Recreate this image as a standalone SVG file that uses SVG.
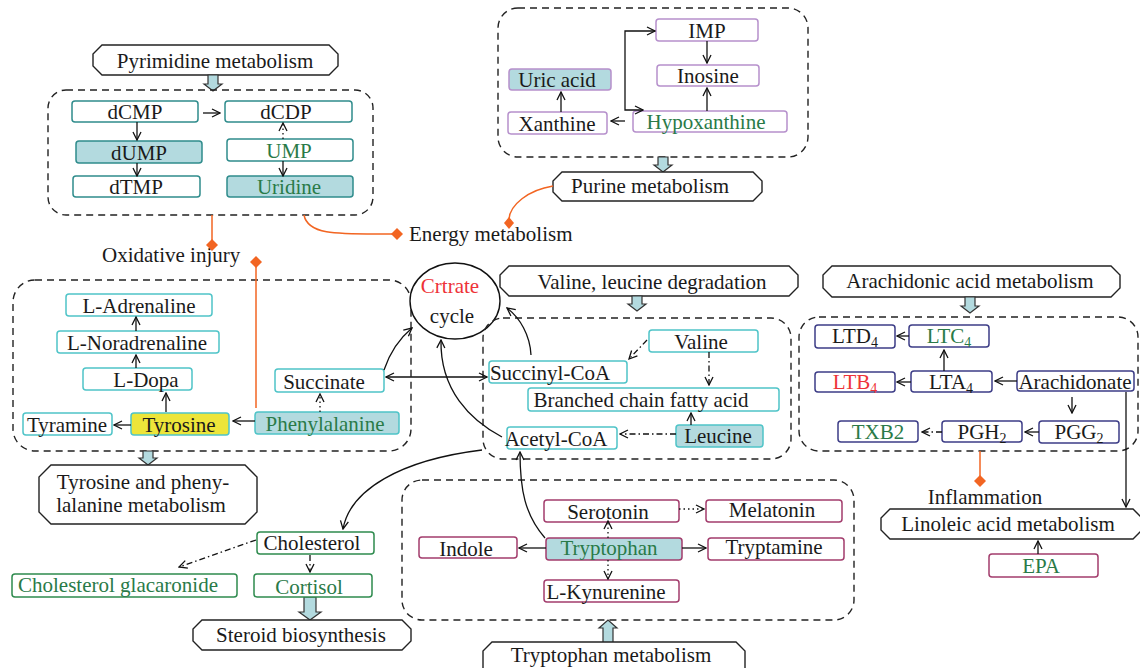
<svg xmlns="http://www.w3.org/2000/svg" width="1140" height="668" viewBox="0 0 1140 668">
<defs>
<style>
.t{font-family:"Liberation Serif","DejaVu Serif",serif;font-size:21px;fill:#1a1a1a;text-anchor:middle}
.ts{text-anchor:start}
.g{fill:#2a7a48}
.r{fill:#ee3338}
.s{font-size:14px}
rect.b{fill:#fff;stroke-width:1.5}
.f{fill:#b3dadf !important}
.y{fill:#ede53a !important}
.cp{stroke:#2f8c8c}
.cu{stroke:#b690cc}
.cc{stroke:#4fc4c8}
.ca{stroke:#3c3c86}
.ct{stroke:#a23c6c}
.ch{stroke:#2e8b4e}
.dash{fill:none;stroke:#222;stroke-width:1.4;stroke-dasharray:7 5}
.oct{fill:#fff;stroke:#222;stroke-width:1.4}
.blk{fill:#b3dadf;stroke:#333;stroke-width:1.2}
.c{fill:none;stroke:#111;stroke-width:1.3}
.dot{stroke-dasharray:1.5 3}
.dd{stroke-dasharray:6 3 1.5 3}
.o{fill:none;stroke:#f26522;stroke-width:1.5}
.od{fill:#f26522}
</style>
<marker id="a" viewBox="0 0 10 10" refX="9" refY="5" markerWidth="10" markerHeight="10" markerUnits="userSpaceOnUse" orient="auto-start-reverse">
<path d="M1,1 L9,5 L1,9" fill="none" stroke="#111" stroke-width="1.3"/>
</marker>
</defs>

<!-- Pyrimidine -->
<g id="pyrimidine">
<polygon class="oct" points="102,45 329,45 338,54 338,66 329,75 102,75 93,66 93,54"/>
<text class="t" x="215" y="68">Pyrimidine metabolism</text>
<polygon class="blk" points="208,75 218,75 218,84 222,84 213,91 204,84 208,84"/>
<rect class="dash" x="48" y="90" width="325" height="125" rx="18"/>
</g>
<g id="dCMP"><rect class="b cp" x="72" y="101" width="126" height="21" rx="3"/><text class="t" x="135" y="119">dCMP</text></g>
<g id="dCDP"><rect class="b cp" x="225" y="101" width="127" height="21" rx="3"/><text class="t" x="286" y="119">dCDP</text></g>
<g id="dUMP"><rect class="b cp f" x="76" y="141" width="126" height="22" rx="3"/><text class="t" x="139" y="160">dUMP</text></g>
<g id="UMP"><rect class="b cp" x="227" y="139" width="126" height="22" rx="3"/><text class="t g" x="289" y="158">UMP</text></g>
<g id="dTMP"><rect class="b cp" x="73" y="176" width="127" height="21" rx="3"/><text class="t" x="136" y="194">dTMP</text></g>
<g id="Uridine"><rect class="b cp f" x="227" y="176" width="126" height="21" rx="3"/><text class="t g" x="289" y="194">Uridine</text></g>

<!-- Purine -->
<g id="purine">
<rect class="dash" x="498" y="8" width="310" height="149" rx="20"/>
<polygon class="blk" points="658,157 668,157 668,165 672,165 663,172 654,165 658,165"/>
<polygon class="oct" points="562,172 753,172 762,181 762,192 753,201 562,201 553,192 553,181"/>
<text class="t" x="650" y="193">Purine metabolism</text>
</g>
<g id="IMP"><rect class="b cu" x="656" y="19" width="102" height="22" rx="3"/><text class="t" x="707" y="38">IMP</text></g>
<g id="Inosine"><rect class="b cu" x="657" y="65" width="102" height="21" rx="3"/><text class="t" x="708" y="83">Inosine</text></g>
<g id="UricAcid"><rect class="b cu f" x="509" y="69" width="102" height="21" rx="3"/><text class="t" x="557" y="87">Uric acid</text></g>
<g id="Xanthine"><rect class="b cu" x="508" y="112" width="99" height="22" rx="3"/><text class="t" x="557" y="131">Xanthine</text></g>
<g id="Hypoxanthine"><rect class="b cu" x="633" y="111" width="154" height="21" rx="3"/><text class="t g" x="706" y="129">Hypoxanthine</text></g>

<!-- Tyrosine -->
<g id="tyrosine-group">
<rect class="dash" x="13" y="280" width="398" height="171" rx="22"/>
<polygon class="blk" points="143,451 153,451 153,458 157,458 148,465 139,458 143,458"/>
<polygon class="oct" points="51,465 245,465 257,477 257,512 245,524 51,524 39,512 39,477"/>
<text class="t" x="143" y="489">Tyrosine and pheny-</text>
<text class="t" x="141" y="512">lalanine metabolism</text>
</g>
<g id="LAdrenaline"><rect class="b cc" x="66" y="294" width="146" height="22" rx="3"/><text class="t" x="139" y="313">L-Adrenaline</text></g>
<g id="LNoradrenaline"><rect class="b cc" x="57" y="331" width="162" height="22" rx="3"/><text class="t" x="137" y="350">L-Noradrenaline</text></g>
<g id="LDopa"><rect class="b cc" x="83" y="368" width="109" height="22" rx="3"/><text class="t" x="146" y="387">L-Dopa</text></g>
<g id="Tyramine"><rect class="b cc" x="23" y="413" width="89" height="22" rx="3"/><text class="t" x="67" y="432">Tyramine</text></g>
<g id="Tyrosine"><rect class="b cc y" x="131" y="413" width="98" height="22" rx="3"/><text class="t" x="179" y="432">Tyrosine</text></g>
<g id="Phenylalanine"><rect class="b cc f" x="255" y="412" width="144" height="22" rx="3"/><text class="t g" x="325" y="431">Phenylalanine</text></g>
<g id="Succinate"><rect class="b cc" x="275" y="369" width="109" height="23" rx="3"/><text class="t" x="324" y="389">Succinate</text></g>

<!-- Cholesterol -->
<g id="steroid">
<polygon class="blk" points="304,597 316,597 316,612 321,612 310,620 299,612 304,612"/>
<polygon class="oct" points="202,620 402,620 411,629 411,641 402,650 202,650 193,641 193,629"/>
<text class="t" x="301" y="642">Steroid biosynthesis</text>
</g>
<g id="Cholesterol"><rect class="b ch" x="257" y="532" width="117" height="22" rx="3"/><text class="t" x="312" y="550">Cholesterol</text></g>
<g id="CholGluc"><rect class="b ch" x="12" y="574" width="225" height="23" rx="3"/><text class="t g" x="118" y="592">Cholesterol glacaronide</text></g>
<g id="Cortisol"><rect class="b ch" x="254" y="574" width="118" height="23" rx="3"/><text class="t g" x="309" y="594">Cortisol</text></g>

<!-- Citrate cycle -->
<g id="cycle">
<ellipse cx="455" cy="301" rx="45" ry="38" fill="#fff" stroke="#111" stroke-width="1.4"/>
<text class="t r" x="450" y="293">Crtrate</text>
<text class="t" x="452" y="323">cycle</text>
</g>

<!-- Valine leucine -->
<g id="valine-group">
<polygon class="oct" points="509,266 789,266 798,275 798,287 789,296 509,296 500,287 500,275"/>
<text class="t" x="652" y="289">Valine, leucine degradation</text>
<polygon class="blk" points="632,296 642,296 642,304 646,304 637,311 628,304 632,304"/>
<rect class="dash" x="483" y="318" width="308" height="141" rx="20"/>
</g>
<g id="Valine"><rect class="b cc" x="649" y="330" width="109" height="22" rx="3"/><text class="t" x="701" y="349">Valine</text></g>
<g id="SuccinylCoA"><rect class="b cc" x="489" y="361" width="138" height="22" rx="3"/><text class="t" x="550" y="380">Succinyl-CoA</text></g>
<g id="BCFA"><rect class="b cc" x="528" y="388" width="251" height="23" rx="3"/><text class="t" x="641" y="407">Branched chain fatty acid</text></g>
<g id="AcetylCoA"><rect class="b cc" x="507" y="427" width="110" height="22" rx="3"/><text class="t" x="556" y="446">Acetyl-CoA</text></g>
<g id="Leucine"><rect class="b cc f" x="676" y="425" width="87" height="22" rx="3"/><text class="t" x="718" y="443">Leucine</text></g>

<!-- Arachidonic -->
<g id="arachidonic-group">
<polygon class="oct" points="832,266 1111,266 1120,275 1120,288 1111,297 832,297 823,288 823,275"/>
<text class="t" x="970" y="288">Arachidonic acid metabolism</text>
<polygon class="blk" points="965,297 975,297 975,306 979,306 970,313 961,306 965,306"/>
<rect class="dash" x="799" y="317" width="339" height="134" rx="20"/>
</g>
<g id="LTD4"><rect class="b ca" x="815" y="325" width="80" height="23" rx="3"/><text class="t" x="855" y="343">LTD<tspan class="s" dy="4">4</tspan></text></g>
<g id="LTC4"><rect class="b ca" x="909" y="325" width="80" height="22" rx="3"/><text class="t g" x="949" y="343">LTC<tspan class="s" dy="4">4</tspan></text></g>
<g id="LTB4"><rect class="b ca" x="815" y="372" width="80" height="20" rx="3"/><text class="t r" x="855" y="389">LTB<tspan class="s" dy="4">4</tspan></text></g>
<g id="LTA4"><rect class="b ca" x="911" y="371" width="81" height="21" rx="3"/><text class="t" x="951" y="389">LTA<tspan class="s" dy="4">4</tspan></text></g>
<g id="Arachidonate"><rect class="b ca" x="1017" y="371" width="117" height="20" rx="3"/><text class="t" x="1075" y="389">Arachidonate</text></g>
<g id="TXB2"><rect class="b ca" x="838" y="421" width="80" height="21" rx="3"/><text class="t g" x="878" y="439">TXB2</text></g>
<g id="PGH2"><rect class="b ca" x="942" y="421" width="80" height="21" rx="3"/><text class="t" x="982" y="439">PGH<tspan class="s" dy="4">2</tspan></text></g>
<g id="PGG2"><rect class="b ca" x="1039" y="421" width="80" height="22" rx="3"/><text class="t" x="1079" y="439">PGG<tspan class="s" dy="4">2</tspan></text></g>

<!-- Linoleic -->
<g id="linoleic">
<text class="t" x="985" y="504">Inflammation</text>
<polygon class="oct" points="890,509 1133,509 1142,518 1142,530 1133,539 890,539 881,530 881,518"/>
<text class="t" x="1008" y="531">Linoleic acid metabolism</text>
</g>
<g id="EPA"><rect class="b ct" x="989" y="554" width="109" height="23" rx="3"/><text class="t g" x="1041" y="573">EPA</text></g>

<!-- Tryptophan -->
<g id="tryptophan-group">
<rect class="dash" x="402" y="480" width="452" height="140" rx="20"/>
<polygon class="blk" points="603,643 613,643 613,628 617,628 608,620 599,628 603,628"/>
<polygon class="oct" points="492,642 736,642 745,651 745,680 483,680 483,651"/>
<text class="t" x="611" y="662">Tryptophan metabolism</text>
</g>
<g id="Serotonin"><rect class="b ct" x="544" y="500" width="135" height="22" rx="3"/><text class="t" x="608" y="519">Serotonin</text></g>
<g id="Melatonin"><rect class="b ct" x="706" y="500" width="136" height="22" rx="3"/><text class="t" x="772" y="517">Melatonin</text></g>
<g id="Indole"><rect class="b ct" x="419" y="537" width="98" height="21" rx="3"/><text class="t" x="466" y="556">Indole</text></g>
<g id="Tryptophan"><rect class="b ct f" x="546" y="538" width="136" height="22" rx="3"/><text class="t g" x="609" y="555">Tryptophan</text></g>
<g id="Tryptamine"><rect class="b ct" x="708" y="538" width="136" height="22" rx="3"/><text class="t" x="774" y="554">Tryptamine</text></g>
<g id="LKynurenine"><rect class="b ct" x="544" y="580" width="135" height="22" rx="3"/><text class="t" x="606" y="599">L-Kynurenine</text></g>

<!-- Labels -->
<g id="energy"><text class="t ts" x="409" y="241">Energy metabolism</text></g>
<g id="oxidative"><text class="t ts" x="102" y="262">Oxidative injury</text></g>

<!-- Connectors -->
<g id="connectors">
<path class="c" marker-end="url(#a)" d="M203 113 H220"/>
<path class="c" marker-end="url(#a)" d="M137 122 V140"/>
<path class="c" marker-end="url(#a)" d="M137 163 V176"/>
<path class="c dot" marker-end="url(#a)" d="M283 139 V123"/>
<path class="c" marker-end="url(#a)" d="M283 161 V176"/>

<path class="c" marker-end="url(#a)" d="M707 41 V63"/>
<path class="c" marker-end="url(#a)" d="M707 111 V88"/>
<path class="c" marker-end="url(#a)" d="M561 112 V92"/>
<path class="c" marker-end="url(#a)" d="M625 121 H611"/>
<path class="c" marker-end="url(#a)" d="M625 72 V31 H655"/>
<path class="c" marker-end="url(#a)" d="M625 72 V110 H643"/>

<path class="c" marker-end="url(#a)" d="M136 331 V317"/>
<path class="c" marker-end="url(#a)" d="M136 368 V355"/>
<path class="c" marker-end="url(#a)" d="M166 412 V393"/>
<path class="c" marker-end="url(#a)" d="M131 425 H114"/>
<path class="c" marker-end="url(#a)" d="M255 421 H233"/>
<path class="c dot" marker-end="url(#a)" d="M320 412 V394"/>
<path class="c" marker-end="url(#a)" d="M384 370 C 390 352 400 338 412 328"/>
<path class="c" marker-start="url(#a)" marker-end="url(#a)" d="M386 377 H487"/>

<path class="c dd" marker-end="url(#a)" d="M647 340 L629 359"/>
<path class="c dd" marker-end="url(#a)" d="M709 352 V385"/>
<path class="c" marker-end="url(#a)" d="M691 425 V413"/>
<path class="c dd" marker-end="url(#a)" d="M676 434 H620"/>
<path class="c" marker-end="url(#a)" d="M531 355 C 530 335 520 318 507 308"/>
<path class="c" marker-end="url(#a)" d="M502 437 C 470 420 440 390 441 340"/>
<path class="c" marker-end="url(#a)" d="M545 538 C 525 515 520 490 520 452"/>
<path class="c" marker-end="url(#a)" d="M482 450 C 400 460 350 490 343 529"/>

<path class="c dd" marker-end="url(#a)" d="M310 555 V572"/>
<path class="c dd" marker-end="url(#a)" d="M256 540 L179 567"/>

<path class="c" marker-end="url(#a)" d="M909 336 H897"/>
<path class="c" marker-end="url(#a)" d="M944 371 V350"/>
<path class="c" marker-end="url(#a)" d="M911 382 H897"/>
<path class="c" marker-end="url(#a)" d="M1017 381 H995"/>
<path class="c" marker-end="url(#a)" d="M1072 397 V413"/>
<path class="c" marker-end="url(#a)" d="M1039 432 H1025"/>
<path class="c dd" marker-end="url(#a)" d="M942 432 H922"/>
<path class="c" marker-end="url(#a)" d="M1126 392 V507"/>
<path class="c" marker-end="url(#a)" d="M1038 554 V541"/>

<path class="c" marker-end="url(#a)" d="M546 548 H519"/>
<path class="c" marker-end="url(#a)" d="M682 548 H706"/>
<path class="c dot" marker-end="url(#a)" d="M608 538 V521"/>
<path class="c dot" marker-end="url(#a)" d="M608 560 V579"/>
<path class="c dot" marker-end="url(#a)" d="M679 509 H704"/>

<path class="o" d="M553 186 C 528 190 510 205 509 219"/>
<polygon class="od" points="509,217 514,223 509,229 504,223"/>
<path class="o" d="M304 215 C 308 236 340 234 393 234"/>
<polygon class="od" points="397,228 403,234 397,240 391,234"/>
<path class="o" d="M212 215 V241"/>
<polygon class="od" points="212,239 218,245 212,251 206,245"/>
<path class="o" d="M256 266 V408"/>
<polygon class="od" points="256,256 262,262 256,268 250,262"/>
<path class="o" d="M980 451 V477"/>
<polygon class="od" points="980,475 986,481 980,487 974,481"/>
</g>
</svg>
